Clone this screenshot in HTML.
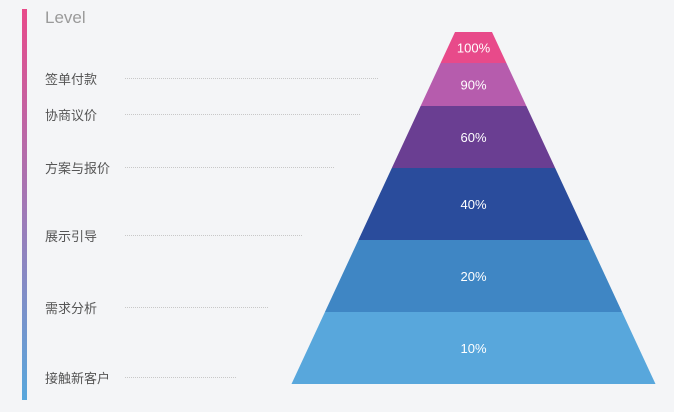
<!DOCTYPE html>
<html><head><meta charset="utf-8"><style>
body{margin:0;background:#f4f5f7;}
svg{display:block;font-family:"Liberation Sans","Noto Sans CJK SC",sans-serif;}
</style></head><body>
<svg id="c" width="674" height="412">
<defs><linearGradient id="g" x1="0" y1="0" x2="0" y2="1"><stop offset="0" stop-color="#e84a8a"/><stop offset="0.5" stop-color="#a277b5"/><stop offset="1" stop-color="#58a7dc"/></linearGradient></defs>
<rect x="22" y="9" width="5" height="391" fill="url(#g)"/>
<text x="45" y="23" font-size="17" fill="#9a9a9a">Level</text>
</svg>
<script>
const stages=["签单付款","协商议价","方案与报价","展示引导","需求分析","接触新客户"];
const percents=["100%","90%","60%","40%","20%","10%"];
const layerHeights=[31,43,62,72,72,72];
const colors=["#e84a8a","#b65cad","#6a3e92","#2a4c9c","#3f86c4","#58a7dc"];
const labelY=[79,115,168,236,308,378];
const lineEnd=[378,360,334,302,268,237];
const svg=document.getElementById('c');const NS="http://www.w3.org/2000/svg";
const top0=32,bottom=384,cx=473.5,wTop=37,wBot=364;
const total=layerHeights.reduce((a,b)=>a+b,0);
function yScale(v){return top0+v/total*(bottom-top0);}
function halfW(y){return (wTop+(y-top0)/(bottom-top0)*(wBot-wTop))/2;}
let acc=0;
for(let i=0;i<layerHeights.length;i++){
 const y1=yScale(acc),y2=yScale(acc+layerHeights[i]);acc+=layerHeights[i];
 const p=document.createElementNS(NS,'polygon');
 p.setAttribute('points',`${cx-halfW(y1)},${y1} ${cx+halfW(y1)},${y1} ${cx+halfW(y2)},${y2} ${cx-halfW(y2)},${y2}`);
 p.setAttribute('fill',colors[i]);
 
 
 svg.appendChild(p);
 const t=document.createElementNS(NS,'text');
 t.setAttribute('x',cx);t.setAttribute('y',(y1+y2)/2+5);t.setAttribute('text-anchor','middle');
 t.setAttribute('font-size','13');t.setAttribute('fill','#fff');t.textContent=percents[i];
 
 
 svg.appendChild(t);
 const l=document.createElementNS(NS,'text');
 l.setAttribute('x',45);l.setAttribute('y',labelY[i]+5);l.setAttribute('font-size','13');l.setAttribute('fill','#555');
 l.textContent=stages[i];
 
 
 svg.appendChild(l);
 const ln=document.createElementNS(NS,'line');
 ln.setAttribute('x1',125);ln.setAttribute('x2',lineEnd[i]);ln.setAttribute('y1',labelY[i]-0.5);ln.setAttribute('y2',labelY[i]-0.5);
 ln.setAttribute('stroke','#c8c8c8');ln.setAttribute('stroke-width','1');ln.setAttribute('stroke-dasharray','1,1');
 
 
 svg.appendChild(ln);
}
</script>
</body></html>
